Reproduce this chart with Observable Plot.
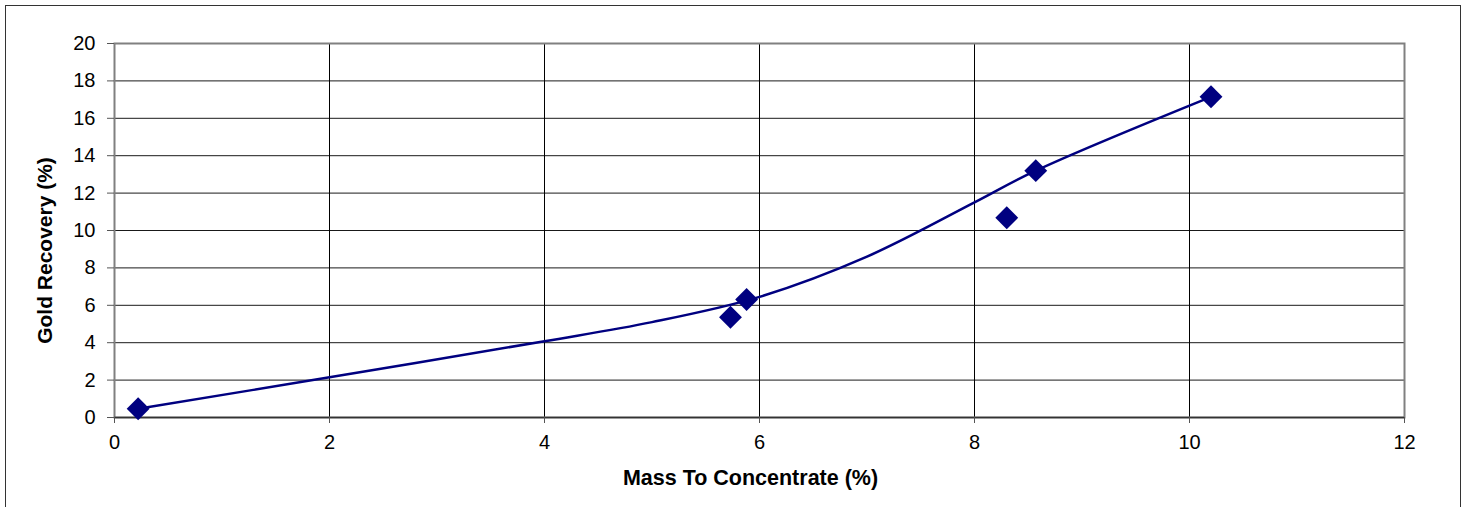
<!DOCTYPE html>
<html><head><meta charset="utf-8">
<script src="https://cdn.jsdelivr.net/npm/d3@7"></script>
<script src="https://cdn.jsdelivr.net/npm/@observablehq/plot@0.6"></script>
<style>
html,body{margin:0;padding:0;background:#fff;overflow:hidden;width:1467px;height:507px;}
#chart{position:relative;width:1467px;height:507px;}
#chart svg{position:absolute;left:0;top:0;}
#border{position:absolute;left:5px;top:5px;width:1456px;height:520px;border:1px solid #333;box-sizing:border-box;pointer-events:none;}
</style></head><body>
<div id="chart"><div id="border"></div></div>
<script>
// Measured samples (markers)
const massToConcentrate = [0.22, 5.73, 5.88, 8.30, 8.57, 10.20];
const goldRecovery = [0.47, 5.36, 6.31, 10.68, 13.2, 17.15];
// Smoothed line series
const curveX = [0.22, 2, 4, 5, 6, 7, 8, 8.57, 10.2];
const curveY = [0.47, 2.15, 4.08, 5.1, 6.45, 8.6, 11.5, 13.2, 17.15];
// Tick labels
const xTicks = [0, 2, 4, 6, 8, 10, 12];
const yTicks = [0, 2, 4, 6, 8, 10, 12, 14, 16, 18, 20];
const xTitle = "Mass To Concentrate (%)";
const yTitle = "Gold Recovery (%)";

const points = massToConcentrate.map((x, i) => ({x, y: goldRecovery[i]}));
const curve = curveX.map((x, i) => ({x, y: curveY[i]}));
const navy = "#000080";

const chart = Plot.plot({
  width: 1467,
  height: 507,
  marginLeft: 114,
  marginTop: 43,
  marginRight: 63,
  marginBottom: 90,
  style: {fontFamily: "'Liberation Sans', Arial, sans-serif", background: "transparent", color: "#000"},
  x: {domain: [0, 12], ticks: xTicks},
  y: {domain: [0, 20], ticks: yTicks},
  marks: [
    Plot.gridX(xTicks, {stroke: "#000", strokeOpacity: 1, strokeWidth: 1}),
    Plot.gridY(yTicks, {stroke: "#000", strokeOpacity: 0.9, strokeWidth: 1}),
    Plot.frame({stroke: "#808080", strokeWidth: 2}),
    Plot.ruleY([0], {stroke: "#333", strokeWidth: 1.5}),
    Plot.axisX(xTicks, {tickSize: 6, tickPadding: 11, fontSize: 20, label: null, stroke: "#555"}),
    Plot.axisY(yTicks, {tickSize: 7, tickPadding: 12, fontSize: 20, label: null, stroke: "#555"}),
    Plot.text([xTitle], {frameAnchor: "bottom", dx: -9, dy: 61, fontSize: 21.5, fontWeight: "bold", lineAnchor: "middle", fill: "#000"}),
    Plot.text([yTitle], {frameAnchor: "left", dx: -69, dy: 20, rotate: -90, fontSize: 21, fontWeight: "bold", textAnchor: "middle", lineAnchor: "middle", fill: "#000"}),
    Plot.line(curve, {x: "x", y: "y", stroke: navy, strokeWidth: 2.5, curve: "catmull-rom"}),
    Plot.dot(points, {x: "x", y: "y", symbol: "diamond2", r: 10.3, fill: navy, stroke: "none"})
  ]
});
document.getElementById("chart").prepend(chart);
</script>
</body></html>
